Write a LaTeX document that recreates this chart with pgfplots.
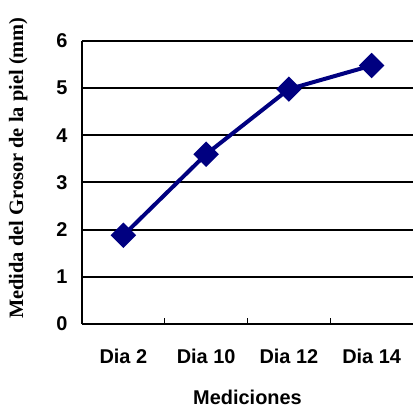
\documentclass[border=0pt]{standalone}
\usepackage{pgfplots}
\pgfplotsset{compat=1.18}
\usepackage{fontspec}
\setmainfont{Liberation Sans}
\newfontfamily\serifbold{Liberation Serif}
\definecolor{navy}{RGB}{0,0,128}
\begin{document}
\begin{tikzpicture}
\useasboundingbox (-82bp,-86bp) rectangle (331bp,324bp);
\begin{axis}[
  at={(0,0)}, anchor=south west,
  scale only axis,
  width=331bp, height=283bp,
  xmin=-0.5, xmax=3.5, ymin=0, ymax=6,
  axis x line=bottom, axis y line=left,
  axis line style={line width=2bp, -},
  xtick={0,1,2,3},
  xticklabels={Dia 2, Dia 10, Dia 12, Dia 14},
  minor xtick={0.5,1.5,2.5},
  major x tick style={draw=none},
  minor x tick style={line width=1.2bp, black},
  minor tick length=6bp,
  tick align=inside,
  ytick={0,1,2,3,4,5,6},
  major y tick style={draw=none},
  ymajorgrids,
  major grid style={line width=2bp, black},
  tick label style={font=\fontsize{20}{23}\selectfont\bfseries},
  /pgf/number format/assume math mode=true,
  xticklabel style={yshift=-22bp},
  yticklabel style={xshift=-11bp},
  xlabel={Mediciones},
  xlabel style={font=\fontsize{20}{23}\selectfont\bfseries, yshift=-19bp},
  ylabel={Medida del Grosor de la piel (mm)},
  every axis y label/.style={at={(axis description cs:-0.193,0.551)},
    rotate=90, anchor=center},
  ylabel style={font=\fontsize{20.5}{24}\serifbold\bfseries},
  clip=false,
]
\addplot[navy, line width=4bp, mark=square*, mark size=7bp,
  mark options={rotate=45, solid, fill=navy}]
  coordinates {(0,1.88) (1,3.6) (2,4.98) (3,5.48)};
\end{axis}
\end{tikzpicture}
\end{document}
